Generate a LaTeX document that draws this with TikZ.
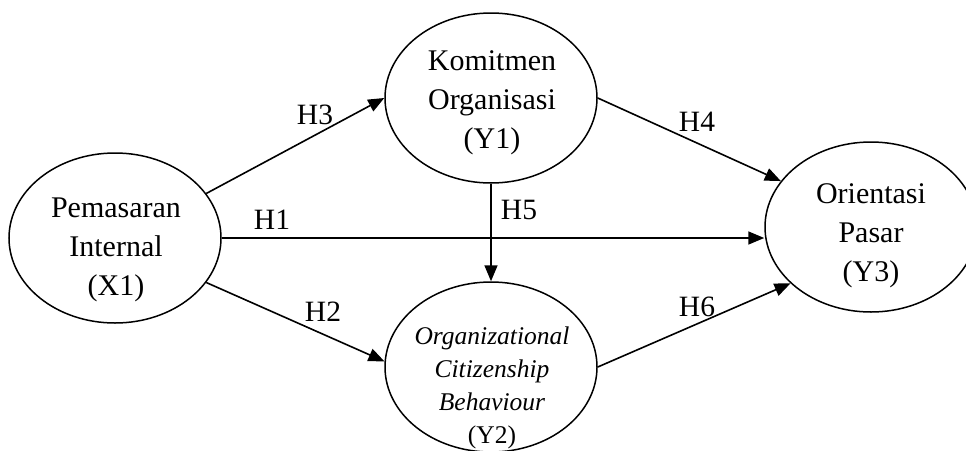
\documentclass[tikz,border=0pt]{standalone}
\usepackage{fontspec}
\setmainfont{Liberation Serif}
\usetikzlibrary{arrows.meta,shapes.geometric}
\begin{document}
\begin{tikzpicture}[x=1pt,y=-1pt,
  var/.style={ellipse,draw,line width=1.5pt,minimum width=212pt,minimum height=170pt,inner sep=0pt},
  lbl/.style={inner sep=0pt,font=\fontsize{30}{39}\selectfont,align=center},
  lbltwo/.style={inner sep=0pt,font=\fontsize{25.5}{33}\selectfont,align=center},
  hyp/.style={inner sep=0pt,font=\fontsize{29.5}{35}\selectfont},
  link/.style={line width=1.6pt,-{Triangle[length=16pt,width=13pt]}}]
\useasboundingbox (0,0) rectangle (966,450);
\clip (0,0) rectangle (966,450);

\node[var] (X1) at (115,238) {};
\node[var] (Y1) at (491,98) {};
\node[var] (Y2) at (491,367) {};
\node[var] (Y3) at (871,227) {};

\node[lbl] (tX1) at (116,250) {Pemasaran\\Internal\\(X1)};
\node[lbl] (tY1) at (492,103) {Komitmen\\Organisasi\\(Y1)};
\node[lbltwo] (tY2) at (492,388) {\textit{Organizational}\\\textit{Citizenship}\\\textit{Behaviour}\\(Y2)};
\node[lbl] (tY3) at (871,236) {Orientasi\\Pasar\\(Y3)};

\draw[link] (X1.26) -- (Y1.west);
\draw[link] (X1.east) -- (X1.east -| Y3.west);
\draw[link] (X1.-26) -- (Y2.177);
\draw[link] (Y1.east) -- (Y3.153);
\draw[link] (Y1.south) -- (Y2.north);
\draw[link] (Y2.east) -- (Y3.215);

\node[hyp] (h3) at (315,115) {H3};
\node[hyp] (h1) at (272,220) {H1};
\node[hyp] (h4) at (697,122) {H4};
\node[hyp] (h5) at (519,210) {H5};
\node[hyp] (h2) at (323,312) {H2};
\node[hyp] (h6) at (697,307) {H6};
\end{tikzpicture}
\end{document}
